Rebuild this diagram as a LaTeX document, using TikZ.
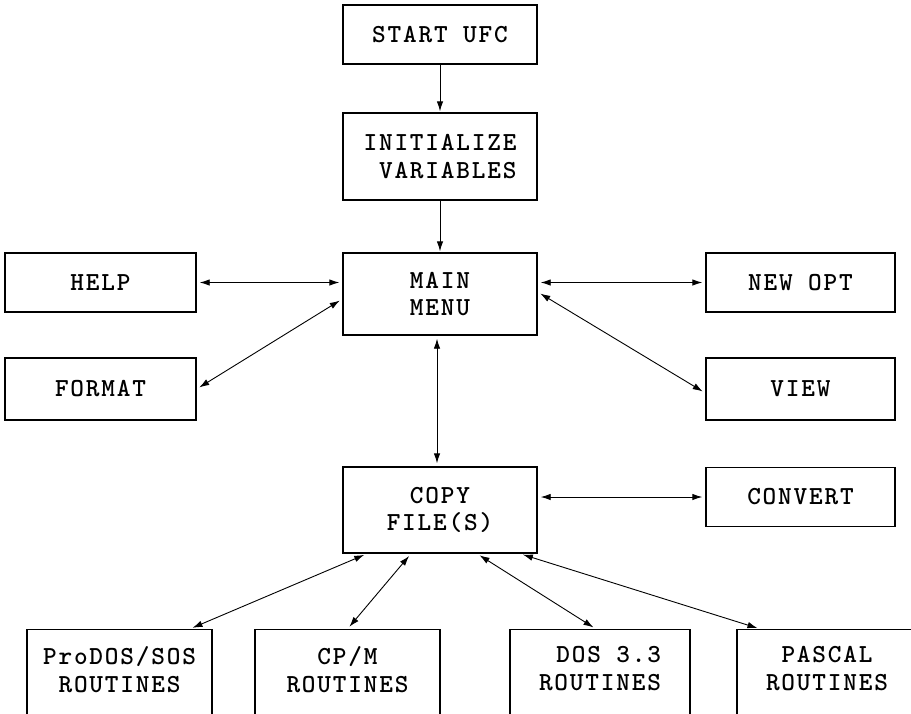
\documentclass[tikz,border=0pt]{standalone}
\usepackage{fontspec}
\usetikzlibrary{arrows.meta}
\newfontfamily\ufcfont{lmmonolt10-bold.otf}[LetterSpace=7]
\newcommand\boxtail{\rule[-75pt]{0pt}{0pt}}

\begin{document}
\begin{tikzpicture}[x=1pt, y=-1pt,
    >={Latex[length=10pt,width=6.5pt]},
    box/.style={draw, line width=1.4pt, align=center, inner sep=0pt,
        font={\ufcfont\fontsize{26}{27.5}\selectfont}},
    stub/.style={box, anchor=north, inner ysep=17pt, minimum width=185pt},
    link/.style={line width=0.9pt, shorten >=3pt, shorten <=3pt}]
\useasboundingbox (0,0) rectangle (911,713);

    % Start and main menu column
    \node[box, minimum width=194pt, minimum height=59pt] (start) at (440,34.5) {START UFC};
    \node[box, minimum width=194pt, minimum height=87pt, align=right] (init) at (440,156.5) {INITIALIZE\\VARIABLES};
    \node[box, minimum width=194pt, minimum height=82pt] (main) at (440,294) {MAIN\\MENU};
    \node[box, minimum width=194pt, minimum height=86pt] (copy) at (440,510) {COPY\\FILE(S)};

    % Side options
    \node[box, minimum width=191pt, minimum height=59pt] (help) at (100.5,282.5) {HELP};
    \node[box, minimum width=191pt, minimum height=62pt] (format) at (100.5,389) {FORMAT};
    \node[box, minimum width=189pt, minimum height=59pt] (newopt) at (800.5,282.5) {NEW OPT};
    \node[box, minimum width=189pt, minimum height=62pt] (view) at (800.5,389) {VIEW};
    \node[box, minimum width=189pt, minimum height=59pt] (convert) at (800.5,497) {CONVERT};

    % Disk format routines (cut off at the bottom)
    \node[stub] (prodos) at (119.5,629) {ProDOS/SOS\\ROUTINES\boxtail};
    \node[stub] (cpm) at (347.5,629) {CP/M\\ROUTINES\boxtail};
    \node[stub, minimum width=180pt, align=right] (dos) at (600,629) {DOS 3.3\\ROUTINES\boxtail};
    \node[stub, minimum width=180pt] (pascal) at (827,629) {PASCAL\\ROUTINES\boxtail};

    % Program flow
    \draw[link, ->, shorten <=0pt, shorten >=1pt] (start) -- (init);
    \draw[link, ->, shorten <=0pt, shorten >=1pt] (init) -- (main);
    \draw[link, <->] ([xshift=-3pt]main.south) -- ([xshift=-3pt]copy.north);

    % Menu choices
    \draw[link, <->] (help.east) -- (help.east -| main.west);
    \draw[link, <->] (format.east) -- ([yshift=-5pt]main.west);
    \draw[link, <->] (newopt.west -| main.east) -- (newopt.west);
    \draw[link, <->] ([yshift=2pt]main.east) -- ([yshift=-4pt]view.west);
    \draw[link, <->] (convert.west -| copy.east) -- (convert.west);

    % Copy routines
    \draw[link, <->] ([xshift=-73pt]copy.south) -- ([xshift=-23pt]prodos.north east);
    \draw[link, <->] ([xshift=-29pt]copy.south) -- (cpm.north);
    \draw[link, <->] ([xshift=37pt]copy.south) -- ([xshift=-4pt]dos.north);
    \draw[link, <->] ([xshift=80pt]copy.south) -- ([xshift=24pt]pascal.north west);
\end{tikzpicture}
\end{document}
